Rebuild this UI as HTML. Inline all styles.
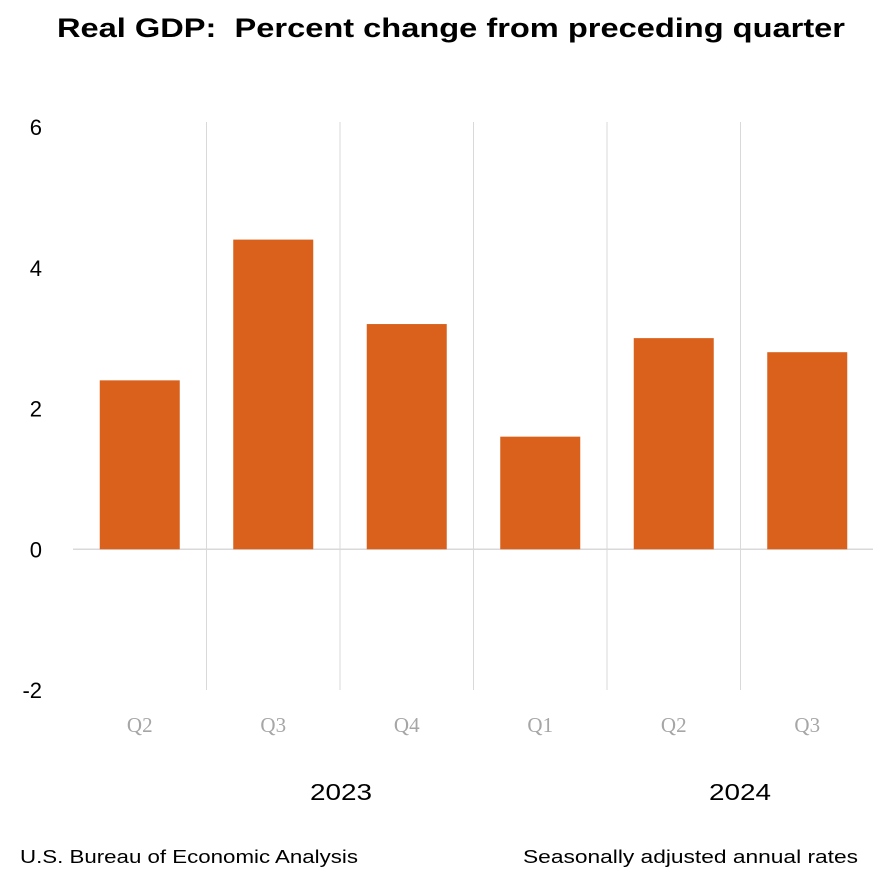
<!DOCTYPE html>
<html><head><meta charset="utf-8"><style>
html,body{margin:0;padding:0;background:#fff;}
body{width:873px;height:880px;overflow:hidden;font-family:"Liberation Sans",sans-serif;}
</style></head><body>
<svg id="chart" width="873" height="880" xmlns="http://www.w3.org/2000/svg">
<text x="57" y="37" font-size="27" font-weight="bold" fill="#000" textLength="788" lengthAdjust="spacingAndGlyphs" xml:space="preserve">Real GDP:  Percent change from preceding quarter</text>
<g id="grid"></g><g id="bars"></g><g id="yaxis"></g><g id="xaxis"></g>
<text x="310" y="800" font-size="23" fill="#000" textLength="62" lengthAdjust="spacingAndGlyphs">2023</text>
<text x="709" y="800" font-size="23" fill="#000" textLength="62" lengthAdjust="spacingAndGlyphs">2024</text>
<text x="20" y="863" font-size="18" fill="#000" textLength="338" lengthAdjust="spacingAndGlyphs">U.S. Bureau of Economic Analysis</text>
<text x="523" y="863" font-size="18" fill="#000" textLength="335" lengthAdjust="spacingAndGlyphs">Seasonally adjusted annual rates</text>
</svg>
<script>
const categories = ["Q2","Q3","Q4","Q1","Q2","Q3"];
const values = [2.4, 4.4, 3.2, 1.6, 3.0, 2.8];
const yTicks = [6, 4, 2, 0, -2];
const NS="http://www.w3.org/2000/svg";
const x0=73, x1=874, yTop=127, yBot=690, vMax=6, vMin=-2;
const bandW=(x1-x0)/categories.length;
function y(v){return yTop+(vMax-v)/(vMax-vMin)*(yBot-yTop);}
function xc(i){return x0+bandW*(i+0.5);}
function mk(tag,attrs,parent){const e=document.createElementNS(NS,tag);for(const k in attrs)e.setAttribute(k,attrs[k]);document.getElementById(parent).appendChild(e);return e;}
for(let i=1;i<categories.length;i++){
  const l=mk("line",{x1:x0+bandW*i,x2:x0+bandW*i,y1:122,y2:yBot,stroke:"#d9d9d9","stroke-width":1},"grid");
  
  
}
values.forEach((v,i)=>{
  const w=80;
  const r=mk("rect",{x:xc(i)-w/2,y:Math.min(y(v),y(0)),width:w,height:Math.abs(y(0)-y(v)),fill:"#d9611c"},"bars");
  
  
});
const z=mk("line",{x1:x0,x2:x1,y1:y(0),y2:y(0),stroke:"#d9d9d9","stroke-width":1.5},"grid");


yTicks.forEach(t=>{
  const e=mk("text",{x:42,y:y(t)+8,"text-anchor":"end","font-size":22,fill:"#000"},"yaxis");
  e.textContent=t;
  
  
});
categories.forEach((c,i)=>{
  const e=mk("text",{x:xc(i),y:732,"text-anchor":"middle","font-size":21,fill:"#a6a6a6","font-family":"Liberation Serif, serif"},"xaxis");
  e.textContent=c;
  
  
});
</script>
</body></html>
